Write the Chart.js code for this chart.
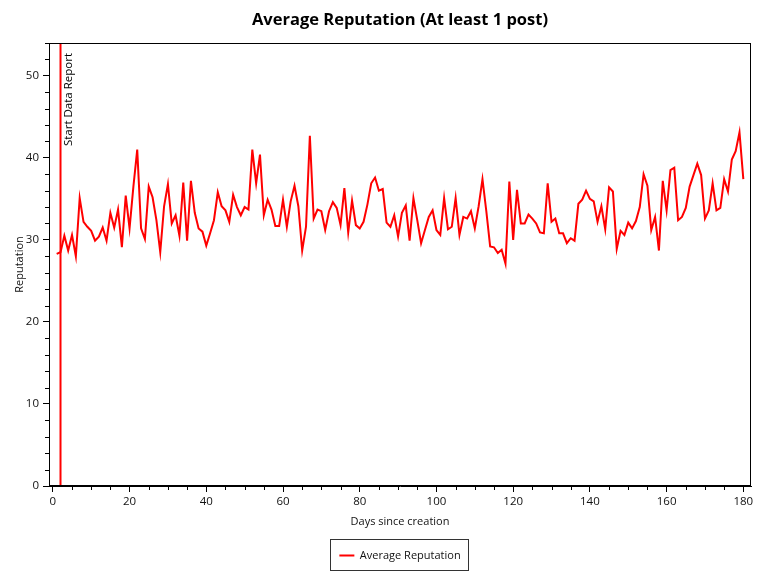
<!DOCTYPE html>
<html>
<head>
<meta charset="utf-8">
<script src="https://cdn.jsdelivr.net/npm/chart.js@4"></script>
<style>
  body { margin: 0; background: #fff; }
  #wrap { width: 768px; height: 576px; }
</style>
</head>
<body>
<div id="wrap"><canvas id="repChart" width="768" height="576"></canvas></div>
<script>
// day index since creation (1..180)
var days = Array.from({ length: 180 }, function (_, i) { return i + 1; });

// average reputation per day
var reputation = [
  28.3, 28.5, 30.5, 28.7, 30.6, 28.0, 35.1, 32.2, 31.6, 31.1,
  29.9, 30.4, 31.5, 29.9, 33.3, 31.5, 33.7, 29.1, 35.4, 31.4,
  36.5, 41.0, 31.4, 30.1, 36.5, 35.2, 32.4, 28.5, 34.1, 36.8,
  32.0, 33.0, 30.5, 37.0, 29.9, 37.2, 33.3, 31.4, 31.0, 29.3,
  30.8, 32.4, 35.8, 34.1, 33.6, 32.2, 35.5, 34.0, 33.0, 34.0,
  33.7, 41.0, 36.9, 40.4, 33.0, 34.9, 33.7, 31.7, 31.7, 34.9,
  31.6, 34.7, 36.6, 34.1, 28.7, 31.6, 42.7, 32.6, 33.7, 33.5,
  31.2, 33.5, 34.6, 33.9, 31.8, 36.3, 30.9, 34.8, 31.8, 31.4,
  32.2, 34.3, 36.9, 37.6, 36.0, 36.2, 32.1, 31.6, 33.0, 30.4,
  33.3, 34.2, 29.9, 35.1, 32.4, 29.6, 31.2, 32.8, 33.6, 31.2,
  30.6, 35.1, 31.3, 31.6, 35.1, 30.6, 32.8, 32.6, 33.5, 31.4,
  34.1, 37.4, 33.5, 29.2, 29.1, 28.4, 28.8, 27.1, 37.1, 30.0,
  36.1, 32.0, 32.0, 33.1, 32.6, 32.0, 30.9, 30.8, 36.9, 32.2,
  32.6, 30.8, 30.8, 29.6, 30.2, 29.9, 34.4, 34.9, 36.0, 35.0,
  34.7, 32.2, 34.1, 31.3, 36.4, 35.9, 28.9, 31.1, 30.6, 32.1,
  31.4, 32.3, 34.0, 38.0, 36.6, 31.2, 32.8, 28.7, 37.2, 33.6,
  38.5, 38.8, 32.4, 32.8, 33.9, 36.5, 37.9, 39.3, 37.9, 32.6,
  33.6, 36.9, 33.6, 33.9, 37.4, 35.9, 39.8, 40.8, 43.1, 37.4
];

// marker line
var startDay = 2;
var startLabel = 'Start Data Report';

var FONT = "'Open Sans', 'Noto Sans', sans-serif";

// box around plot, minor ticks, start marker, legend frame
var extras = {
  id: 'extras',
  afterLayout: function (chart) {
    // center title and legend on the plot area, not the whole canvas
    var a = chart.chartArea;
    var mid = (a.left + a.right) / 2;
    [chart.titleBlock, chart.legend].forEach(function (b) {
      var d = mid - (b.left + b.right) / 2;
      b.left += d;
      b.right += d;
    });
  },
  afterDatasetsDraw: function (chart) {
    var ctx = chart.ctx, a = chart.chartArea;
    var xs = chart.scales.x;
    ctx.save();

    var px = xs.getPixelForValue(startDay);
    ctx.strokeStyle = '#ff0000';
    ctx.lineWidth = 2;
    ctx.beginPath();
    ctx.moveTo(px, a.top);
    ctx.lineTo(px, a.bottom);
    ctx.stroke();

    ctx.translate(px + 8.5, a.top + 10);
    ctx.rotate(-Math.PI / 2);
    ctx.fillStyle = '#000';
    ctx.font = '11.5px ' + FONT;
    ctx.textAlign = 'right';
    ctx.textBaseline = 'middle';
    ctx.fillText(startLabel, 0, 0);
    ctx.restore();
  },
  afterDraw: function (chart) {
    var ctx = chart.ctx, a = chart.chartArea;
    var xs = chart.scales.x, ys = chart.scales.y;
    ctx.save();
    ctx.strokeStyle = '#000';
    ctx.lineWidth = 1;
    ctx.strokeRect(Math.round(a.left) + 0.5, Math.round(a.top) + 0.5,
      Math.round(a.right - a.left) - 1, Math.round(a.bottom - a.top) - 1);

    ctx.beginPath();
    for (var v = 5; v <= 180; v += 5) {
      if (v % 20 === 0) continue;
      var x = Math.round(xs.getPixelForValue(v)) + 0.5;
      ctx.moveTo(x, a.bottom);
      ctx.lineTo(x, a.bottom + 4);
    }
    for (var w = 2; w <= 54; w += 2) {
      if (w % 10 === 0) continue;
      var y = Math.round(ys.getPixelForValue(w)) + 0.5;
      ctx.moveTo(a.left, y);
      ctx.lineTo(a.left - 4, y);
    }
    ctx.stroke();

    var boxes = chart.legend.legendHitBoxes;
    if (boxes && boxes.length) {
      var b = boxes[0];
      ctx.strokeStyle = '#333';
      ctx.strokeRect(Math.round(b.left) - 8.5, Math.round(b.top) - 10.5,
        Math.round(b.width) + 17, Math.round(b.height) + 20);
    }
    ctx.restore();
  }
};

var ctx = document.getElementById('repChart').getContext('2d');
var repChart = new Chart(ctx, {
  type: 'line',
  data: {
    datasets: [{
      label: 'Average Reputation',
      data: days.map(function (d, i) { return { x: d, y: reputation[i] }; }),
      borderColor: '#ff0000',
      backgroundColor: '#ff0000',
      borderWidth: 2,
      pointRadius: 0,
      tension: 0
    }]
  },
  options: {
    responsive: false,
    animation: false,
    layout: { padding: { left: 0, right: 17, top: 0, bottom: 5 } },
    scales: {
      x: {
        type: 'linear',
        min: -1,
        max: 182,
        afterFit: function (s) { s.height = 54; },
        border: { color: '#000', width: 1 },
        grid: { drawOnChartArea: false, drawTicks: true, tickLength: 6, color: '#000' },
        ticks: {
          stepSize: 20,
          includeBounds: false,
          autoSkip: false,
          maxRotation: 0,
          padding: 3,
          color: '#111',
          font: { family: FONT, size: 11.5 }
        },
        title: {
          display: true,
          text: 'Days since creation',
          color: '#111',
          font: { family: FONT, size: 11 },
          padding: { top: 0, bottom: 12 }
        }
      },
      y: {
        min: 0,
        max: 54,
        afterFit: function (s) { s.width = 49; },
        border: { color: '#000', width: 1 },
        grid: { drawOnChartArea: false, drawTicks: true, tickLength: 6, color: '#000' },
        ticks: {
          stepSize: 10,
          includeBounds: false,
          padding: 4,
          color: '#111',
          font: { family: FONT, size: 11.5 }
        },
        title: {
          display: true,
          text: 'Reputation',
          color: '#111',
          font: { family: FONT, size: 11 },
          padding: { top: 13, bottom: 0 }
        }
      }
    },
    plugins: {
      title: {
        display: true,
        text: 'Average Reputation (At least 1 post)',
        color: '#000',
        font: { family: FONT, size: 16.5, weight: 'bold' },
        padding: { top: 10.5, bottom: 12.7 }
      },
      legend: {
        position: 'bottom',
        labels: {
          boxWidth: 15,
          boxHeight: 2,
          padding: 10,
          color: '#111',
          font: { family: FONT, size: 11 },
          generateLabels: function (chart) {
            return Chart.defaults.plugins.legend.labels.generateLabels(chart).map(function (l) {
              l.lineWidth = 0;
              return l;
            });
          }
        }
      },
      tooltip: { enabled: false }
    }
  },
  plugins: [extras]
});
</script>
</body>
</html>
